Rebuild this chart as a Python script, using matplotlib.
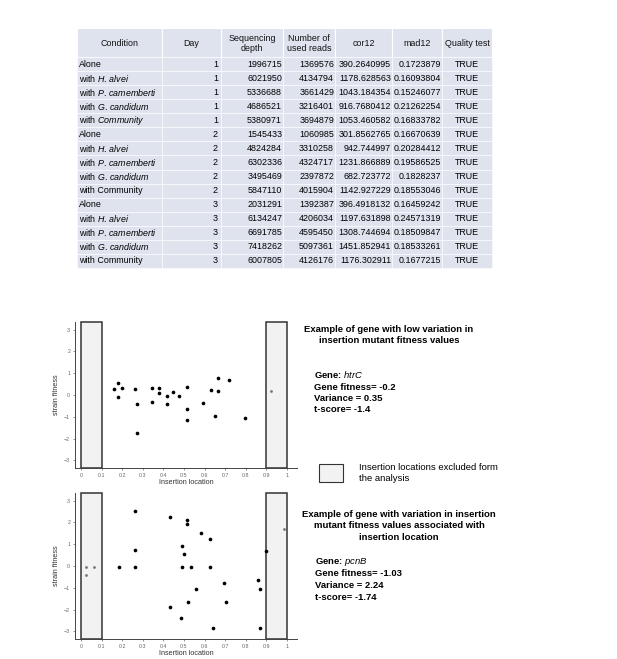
import numpy as np
import matplotlib.pyplot as plt
from matplotlib.patches import Rectangle

plt.rcParams['font.family'] = ['Liberation Sans', 'DejaVu Sans']
plt.rcParams['mathtext.fontset'] = 'custom'
plt.rcParams['mathtext.rm'] = 'Liberation Sans'
plt.rcParams['mathtext.it'] = 'Liberation Sans:italic'
plt.rcParams['mathtext.bf'] = 'Liberation Sans:bold'

# ---- table data ----
conditions = ["Alone", "with $\\it{H.\\,alvei}$", "with $\\it{P.\\,camemberti}$",
              "with $\\it{G.\\,candidum}$", "with $\\it{Community}$",
              "Alone", "with $\\it{H.\\,alvei}$", "with $\\it{P.\\,camemberti}$",
              "with $\\it{G.\\,candidum}$", "with Community",
              "Alone", "with $\\it{H.\\,alvei}$", "with $\\it{P.\\,camemberti}$",
              "with $\\it{G.\\,candidum}$", "with Community"]
days = [1] * 5 + [2] * 5 + [3] * 5
seq_depth = [1996715, 6021950, 5336688, 4686521, 5380971,
             1545433, 4824284, 6302336, 3495469, 5847110,
             2031291, 6134247, 6691785, 7418262, 6007805]
used_reads = [1369576, 4134794, 3661429, 3216401, 3694879,
              1060985, 3310258, 4324717, 2397872, 4015904,
              1392387, 4206034, 4595450, 5097361, 4126176]
cor12 = ["390.2640995", "1178.628563", "1043.184354", "916.7680412", "1053.460582",
         "301.8562765", "942.744997", "1231.866889", "682.723772", "1142.927229",
         "396.4918132", "1197.631898", "1308.744694", "1451.852941", "1176.302911"]
mad12 = ["0.1723879", "0.16093804", "0.15246077", "0.21262254", "0.16833782",
         "0.16670639", "0.20284412", "0.19586525", "0.1828237", "0.18553046",
         "0.16459242", "0.24571319", "0.18509847", "0.18533261", "0.1677215"]
quality = ["TRUE"] * 15
headers = ["Condition", "Day", "Sequencing\ndepth", "Number of\nused reads",
           "cor12", "mad12", "Quality test"]

# ---- scatter data: htrC ----
htrc_x = [0.160, 0.177, 0.177, 0.198, 0.261, 0.274, 0.274, 0.344, 0.344, 0.379,
          0.379, 0.418, 0.418, 0.446, 0.476, 0.515, 0.515, 0.515, 0.595, 0.634,
          0.652, 0.665, 0.665, 0.718, 0.797]
htrc_y = [0.29, 0.55, -0.08, 0.30, 0.26, -0.41, -1.74, 0.33, -0.30, 0.33,
          0.08, -0.05, -0.42, 0.14, -0.06, 0.36, -0.64, -1.15, -0.36, 0.21,
          -0.98, 0.77, 0.18, 0.67, -1.05]
htrc_ex_x = [0.922]
htrc_ex_y = [0.20]

# ---- scatter data: pcnB ----
pcnb_x = [0.186, 0.264, 0.264, 0.264, 0.434, 0.431, 0.486, 0.489, 0.489, 0.501,
          0.514, 0.514, 0.520, 0.536, 0.561, 0.583, 0.629, 0.629, 0.643, 0.695,
          0.703, 0.861, 0.872, 0.872, 0.897]
pcnb_y = [-0.06, 2.53, 0.73, -0.06, 2.27, -1.86, -2.37, 0.94, -0.06, 0.53,
          2.11, 1.95, -1.65, -0.06, -1.05, 1.53, 1.26, -0.06, -2.86, -0.80,
          -1.65, -0.65, -1.05, -2.86, 0.67]
pcnb_ex_x = [0.024, 0.024, 0.063, 0.987]
pcnb_ex_y = [-0.06, -0.41, -0.06, 1.70]

W, H = 617, 659
fig = plt.figure(figsize=(W / 100, H / 100), dpi=100)

# background axes in pixel coordinates for the table and notes
bg = fig.add_axes([0, 0, 1, 1])
bg.set_xlim(0, W)
bg.set_ylim(H, 0)
bg.axis("off")

col_edges = [77, 162, 221, 283, 335, 392, 442, 492]
head_top, head_bot = 28, 57
row_h = (268 - head_bot) / 15
cell_color = "#dfe3ee"
fs = 6.4

for i in range(len(col_edges) - 1):
    x0, x1 = col_edges[i], col_edges[i + 1]
    bg.add_patch(Rectangle((x0, head_top), x1 - x0, head_bot - head_top,
                           facecolor=cell_color, edgecolor="white", lw=0.8))
    bg.text((x0 + x1) / 2, (head_top + head_bot) / 2 + 1, headers[i], ha="center",
            va="center", fontsize=fs, linespacing=1.15, color="#111111")
    for r in range(15):
        y0 = head_bot + r * row_h
        bg.add_patch(Rectangle((x0, y0), x1 - x0, row_h,
                               facecolor=cell_color, edgecolor="white", lw=0.4))

for r in range(15):
    yc = head_bot + (r + 0.5) * row_h
    bg.text(col_edges[0] + 2, yc, conditions[r], ha="left", va="center", fontsize=fs)
    bg.text(col_edges[2] - 3, yc, str(days[r]), ha="right", va="center", fontsize=fs)
    bg.text(col_edges[3] - 1, yc, str(seq_depth[r]), ha="right", va="center", fontsize=fs)
    bg.text(col_edges[4] - 1, yc, str(used_reads[r]), ha="right", va="center", fontsize=fs)
    bg.text(col_edges[5] - 1, yc, cor12[r], ha="right", va="center", fontsize=fs)
    bg.text(col_edges[6] - 1, yc, mad12[r], ha="right", va="center", fontsize=fs)
    bg.text((col_edges[6] + col_edges[7]) / 2, yc, quality[r], ha="center",
            va="center", fontsize=fs)

# notes next to the plots
nfs = 6.8
bg.text(389, 335, "Example of gene with low variation in\ninsertion mutant fitness values",
        ha="center", va="center", fontsize=nfs, fontweight="bold", linespacing=1.3)
bg.text(314, 374, "Gene: $\\it{htrC}$", ha="left", va="center", fontsize=nfs, fontweight="bold")
bg.text(314, 387, "Gene fitness= -0.2", ha="left", va="center", fontsize=nfs, fontweight="bold")
bg.text(314, 398.5, "Variance = 0.35", ha="left", va="center", fontsize=nfs, fontweight="bold")
bg.text(314, 410, "t-score= -1.4", ha="left", va="center", fontsize=nfs, fontweight="bold")

bg.add_patch(Rectangle((319, 464), 24, 18, facecolor="#f2f2f2", edgecolor="#333333", lw=0.8))
bg.text(359, 473, "Insertion locations excluded form\nthe analysis", ha="left",
        va="center", fontsize=nfs, linespacing=1.4)

bg.text(399, 526, "Example of gene with variation in insertion\nmutant fitness values associated with\ninsertion location",
        ha="center", va="center", fontsize=nfs, fontweight="bold", linespacing=1.3)
bg.text(315, 562, "Gene: $\\it{pcnB}$", ha="left", va="center", fontsize=nfs, fontweight="bold")
bg.text(315, 574, "Gene fitness= -1.03", ha="left", va="center", fontsize=nfs, fontweight="bold")
bg.text(315, 586, "Variance = 2.24", ha="left", va="center", fontsize=nfs, fontweight="bold")
bg.text(315, 598, "t-score= -1.74", ha="left", va="center", fontsize=nfs, fontweight="bold")


def fitness_plot(top_px, bottom_px, xs, ys, ex_x, ex_y):
    ax = fig.add_axes([75 / W, 1 - bottom_px / H, (297 - 75) / W, (bottom_px - top_px) / H])
    ax.set_xlim(-0.03, 1.05)
    ax.set_ylim(-3.35, 3.35)
    for x0 in (0.0, 0.9):
        ax.add_patch(Rectangle((x0, -3.35), 0.1, 6.7, facecolor="#f2f2f2",
                               edgecolor="#333333", lw=1.1, zorder=1, clip_on=False))
    ax.scatter(xs, ys, s=7, color="black", zorder=3, linewidths=0)
    ax.scatter(ex_x, ex_y, s=4, color="#777777", zorder=3, linewidths=0)
    ax.set_xticks(np.arange(0, 1.01, 0.1))
    ax.set_xticklabels(["0", "0.1", "0.2", "0.3", "0.4", "0.5", "0.6", "0.7", "0.8", "0.9", "1"])
    ax.set_yticks([-3, -2, -1, 0, 1, 2, 3])
    ax.tick_params(labelsize=3.8, colors="#666666", length=1.5, width=0.5, pad=2)
    for s in ("top", "right"):
        ax.spines[s].set_visible(False)
    for s in ("left", "bottom"):
        ax.spines[s].set_color("#444444")
        ax.spines[s].set_linewidth(0.7)
    ax.set_xlabel("Insertion location", fontsize=5.2, color="#333333", labelpad=1)
    ax.set_ylabel("strain fitness", fontsize=5.2, color="#333333", labelpad=3)
    ax.patch.set_alpha(0)
    return ax


fitness_plot(322, 468, htrc_x, htrc_y, htrc_ex_x, htrc_ex_y)
fitness_plot(493, 639, pcnb_x, pcnb_y, pcnb_ex_x, pcnb_ex_y)

plt.savefig("out.png", dpi=100)
